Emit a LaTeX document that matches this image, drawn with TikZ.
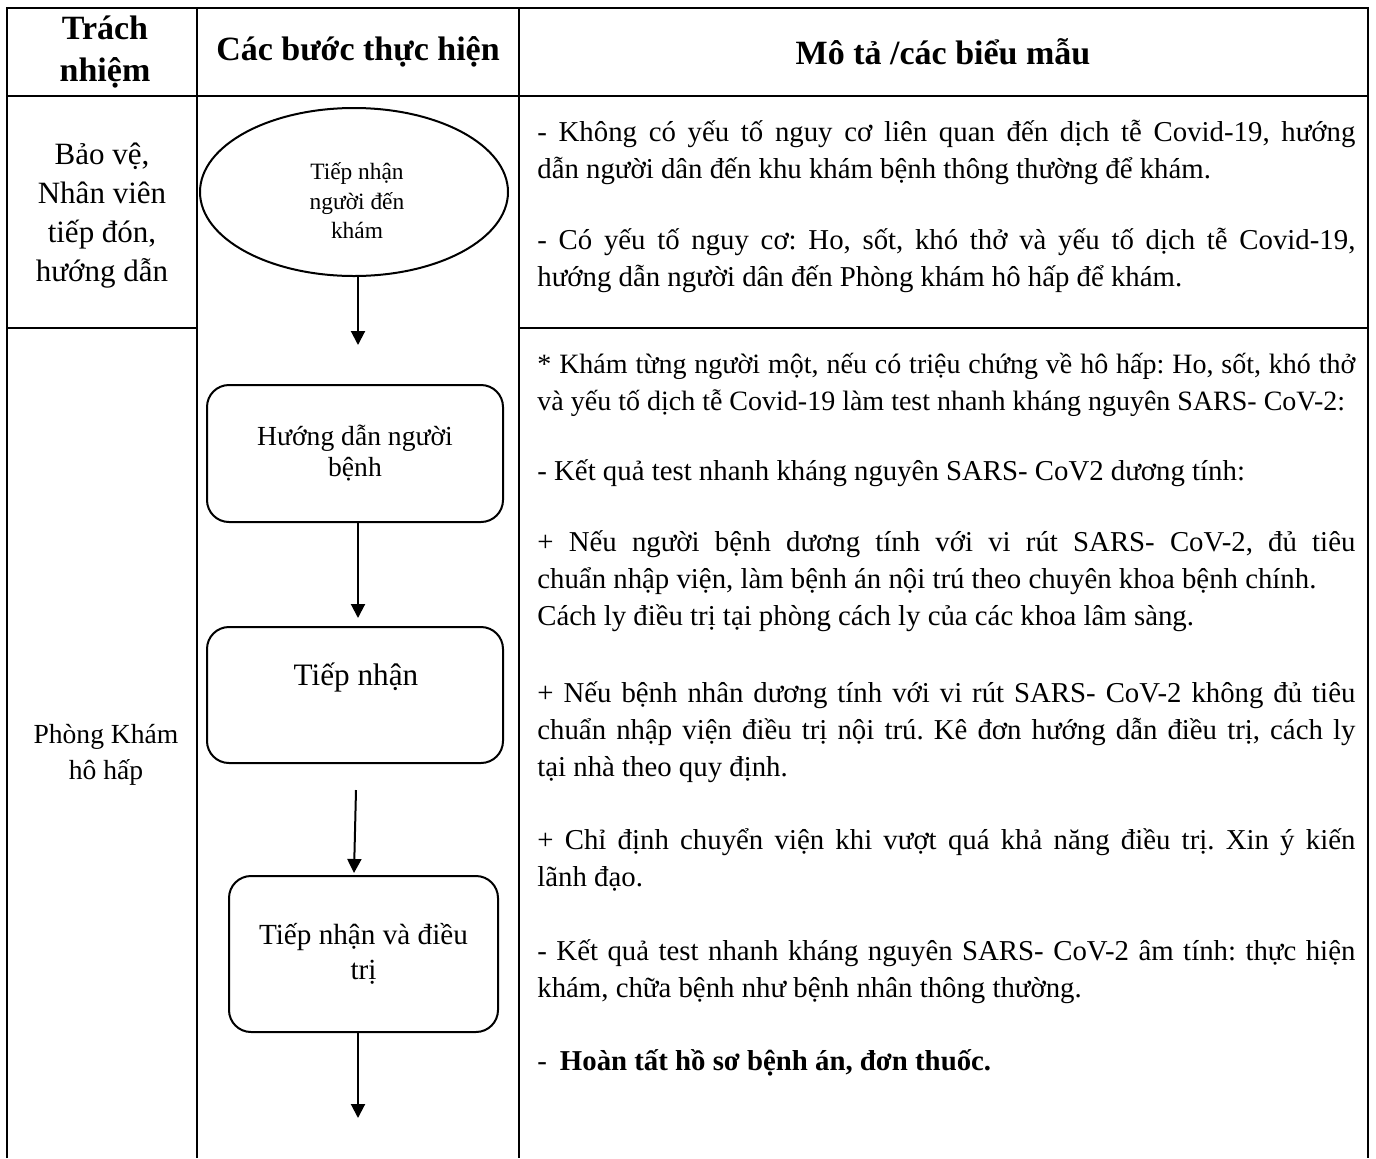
\documentclass[tikz,border=0pt]{standalone}
\usepackage{fontspec}
\setmainfont{Liberation Serif}
\usetikzlibrary{arrows.meta,shapes.geometric}
\frenchspacing
\begin{document}
\begin{tikzpicture}[x=0.5pt,y=-0.5pt,
  grid/.style={line width=1pt},
  hdr/.style={font=\bfseries\fontsize{17}{21}\selectfont,align=center,inner sep=0pt},
  lefttxt/.style={font=\fontsize{15.5}{19.5}\selectfont,align=center,inner sep=0pt},
  flowbox/.style={draw,line width=1pt,rounded corners=11pt,align=center,inner sep=0pt},
  arr/.style={line width=1pt,-{Triangle[length=7pt,width=7pt]}},
  body/.style={font=\fontsize{14.4}{18.5}\selectfont,
    execute at begin node={\hyphenpenalty=10000\relax\exhyphenpenalty=10000\relax\frenchspacing},
    text width=409pt,align=justify,inner sep=0pt,anchor=base west},
]
\useasboundingbox (0,0) rectangle (1376,1158);
% table grid
\draw[grid] (7,1158) -- (7,8) -- (1368,8) -- (1368,1158);
\draw[grid] (197,8) -- (197,1158);
\draw[grid] (519,8) -- (519,1158);
\draw[grid] (7,96) -- (1368,96);
\draw[grid] (7,328) -- (197,328);
\draw[grid] (519,328) -- (1368,328);
% header
\node[hdr] (h1) at (105,52) {Trách\\nhiệm};
\node[hdr] (h2) at (358,52) {Các bước thực hiện};
\node[hdr] (h3) at (943,52) {Mô tả /các biểu mẫu};
% left column
\node[lefttxt] (r1) at (102,216) {Bảo vệ,\\Nhân viên\\tiếp đón,\\hướng dẫn};
\node[lefttxt,font=\fontsize{13.8}{18}\selectfont] (r2) at (106,755) {Phòng Khám\\hô hấp};
% flowchart
\node[draw,ellipse,line width=1pt,minimum width=154pt,minimum height=84pt,inner sep=0pt] (e) at (354,192) {};
\node[align=center,inner sep=0pt,font=\fontsize{11.7}{14.8}\selectfont] (et) at (357,201) {Tiếp nhận\\người đến\\khám};
\node[flowbox,minimum width=148pt,minimum height=68.5pt,font=\fontsize{13.8}{15.5}\selectfont] (b1) at (355,453.5) {Hướng dẫn người\\bệnh};
\node[flowbox,minimum width=148pt,minimum height=68pt] (b2) at (355,695) {};
\node[inner sep=0pt,font=\fontsize{15.6}{18}\selectfont] (t2) at (356,678) {Tiếp nhận};
\node[flowbox,minimum width=134.5pt,minimum height=78pt,font=\fontsize{14.6}{17.5}\selectfont] (b3) at (363.5,954) {Tiếp nhận và điều\\trị};
\coordinate (a1) at (358,345);
\coordinate (a2) at (358,618);
\coordinate (a3s) at (356,790);
\coordinate (a3) at (354,873);
\coordinate (a4) at (358,1118);
\draw[arr] (e.south -| a1) -- (a1);
\draw[arr] (b1.south -| a2) -- (a2);
\draw[arr] (a3s) -- (a3);
\draw[arr] (b3.south -| a4) -- (a4);
% right column
\node[body] (p1) at (537,141) {- Không có yếu tố nguy cơ liên quan đến dịch tễ Covid-19, hướng\linebreak dẫn người dân đến khu khám bệnh thông thường để khám.};
\node[body] (p2) at (537,249) {- Có yếu tố nguy cơ: Ho, sốt, khó thở và yếu tố dịch tễ Covid-19,\linebreak hướng dẫn người dân đến Phòng khám hô hấp để khám.};
\node[body,font=\fontsize{14}{18.5}\selectfont] (p3) at (537,373) {* Khám từng người một, nếu có triệu chứng về hô hấp: Ho, sốt, khó thở\linebreak và yếu tố dịch tễ Covid-19 làm test nhanh kháng nguyên SARS- CoV-2:};
\node[body] (p4) at (537,480) {- Kết quả test nhanh kháng nguyên SARS- CoV2 dương tính:};
\node[body] (p5) at (537,551) {+ Nếu người bệnh dương tính với vi rút SARS- CoV-2, đủ tiêu\linebreak chuẩn nhập viện, làm bệnh án nội trú theo chuyên khoa bệnh chính.\newline Cách ly điều trị tại phòng cách ly của các khoa lâm sàng.};
\node[body] (p6) at (537,702) {+ Nếu bệnh nhân dương tính với vi rút SARS- CoV-2 không đủ tiêu\linebreak chuẩn nhập viện điều trị nội trú. Kê đơn hướng dẫn điều trị, cách ly\linebreak tại nhà theo quy định.};
\node[body] (p7) at (537,849) {+ Chỉ định chuyển viện khi vượt quá khả năng điều trị. Xin ý kiến\linebreak lãnh đạo.};
\node[body] (p8) at (537,960) {- Kết quả test nhanh kháng nguyên SARS- CoV-2 âm tính: thực hiện\linebreak khám, chữa bệnh như bệnh nhân thông thường.};
\node[body] (p9) at (537,1070) {-\hspace{0.45em}\textbf{Hoàn tất hồ sơ bệnh án, đơn thuốc.}};
\end{tikzpicture}
\end{document}
